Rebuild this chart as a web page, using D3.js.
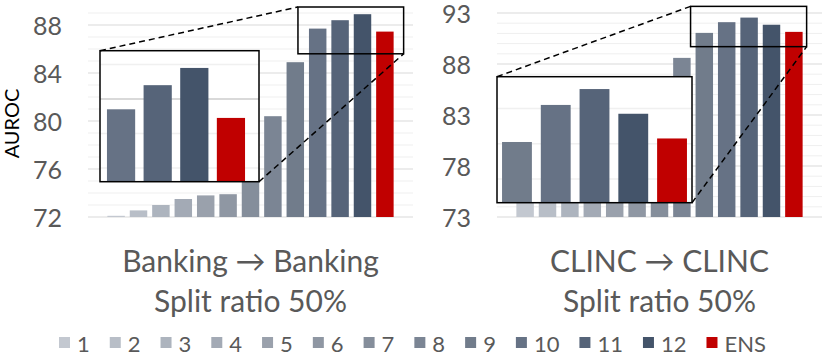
<!DOCTYPE html>
<html>
<head>
<meta charset="utf-8">
<script src="https://cdn.jsdelivr.net/npm/d3@7"></script>
<style>
  body { margin: 0; background: #fff; }
  text { font-family: Lato, "Open Sans", sans-serif; fill: #595959; }
</style>
</head>
<body>
<div id="chart"></div>
<script>
// model names (12 single models + ensemble)
var models = ["1", "2", "3", "4", "5", "6", "7", "8", "9", "10", "11", "12", "ENS"];

// AUROC per model
var bankingAuroc = [72.1, 72.55, 73.0, 73.5, 73.8, 73.9, 76.5, 80.4, 84.9, 87.7, 88.4, 88.9, 87.45];
var clincAuroc = [79.5, 81.0, 82.0, 83.5, 84.5, 85.5, 86.3, 88.6, 91.05, 92.1, 92.55, 91.85, 91.15];

var bankingTicks = [72, 76, 80, 84, 88];
var clincTicks = [73, 78, 83, 88, 93];

var bankingTitle = ["Banking \u2192 Banking", "Split ratio 50%"];
var clincTitle = ["CLINC \u2192 CLINC", "Split ratio 50%"];

// models shown in the zoomed inset
var bankingZoomModels = ["10", "11", "12", "ENS"];
var clincZoomModels = ["9", "10", "11", "12", "ENS"];

var barColors = ["#c3c8d0", "#b8bec7", "#adb4be", "#a3aab5", "#9aa1ac", "#8f97a3",
                 "#858e9b", "#7b8594", "#717c8b", "#667285", "#566479", "#44546a", "#c00000"];

var width = 830, height = 357;

var svg = d3.select("#chart").append("svg")
    .attr("width", width)
    .attr("height", height);

var color = d3.scaleOrdinal().domain(models).range(barColors);

/*
 * One panel: bars, gridlines, tick labels, title and a zoom inset.
*/
function drawPanel(p) {
    var g = svg.append("g");

    var x = d3.scaleBand()
        .domain(models)
        .range([p.x0, p.x1])
        .paddingInner(0.22)
        .paddingOuter(0.865);

    var y = d3.scaleLinear()
        .domain(p.domain)
        .range([217, 13]);

    // gridlines every unit, darker ones at labelled ticks
    var minor = d3.range(p.domain[0], p.domain[1] + 1);
    g.selectAll("line.minor")
        .data(minor)
        .enter().append("line")
        .attr("x1", p.x0).attr("x2", p.x1)
        .attr("y1", d => y(d)).attr("y2", d => y(d))
        .attr("stroke", d => p.ticks.indexOf(d) >= 0 ? "#d9d9d9" : "#efefef")
        .attr("stroke-width", 1);

    // tick labels
    g.selectAll("text.tick")
        .data(p.ticks)
        .enter().append("text")
        .attr("x", p.x0 - 26)
        .attr("y", d => y(d) + 1)
        .attr("dy", "0.36em")
        .attr("text-anchor", "end")
        .style("font-size", "25px")
        .text(d => d);

    // bars
    g.selectAll("rect.bar")
        .data(p.values)
        .enter().append("rect")
        .attr("x", (d, i) => x(models[i]))
        .attr("width", x.bandwidth())
        .attr("y", d => y(d))
        .attr("height", d => y(p.domain[0]) - y(d))
        .attr("fill", (d, i) => color(models[i]));

    // zoom box around the top of the last bars
    var zm = p.zoom;
    var bx0 = x(zm.models[0]) - zm.pad[0],
        bx1 = x(zm.models[zm.models.length - 1]) + x.bandwidth() + zm.pad[1],
        by0 = y(zm.box[1]),
        by1 = y(zm.box[0]);
    g.append("rect")
        .attr("x", bx0).attr("y", by0)
        .attr("width", bx1 - bx0).attr("height", by1 - by0)
        .attr("fill", "none")
        .attr("stroke", "#000")
        .attr("stroke-width", 1.5);

    // inset
    var ins = zm.inset;
    var ix = d3.scaleBand()
        .domain(zm.models)
        .range(zm.range)
        .paddingInner(0.23)
        .paddingOuter(zm.outer);
    var iy = d3.scaleLinear()
        .domain(zm.domain)
        .range([ins.y1, ins.y0]);

    var ig = g.append("g");
    ig.append("rect")
        .attr("x", ins.x0).attr("y", ins.y0)
        .attr("width", ins.x1 - ins.x0).attr("height", ins.y1 - ins.y0)
        .attr("fill", "#fff");

    var insetGrid = d3.range(Math.ceil(zm.domain[0]), Math.floor(zm.domain[1]) + 1);
    ig.selectAll("line.igrid")
        .data(insetGrid)
        .enter().append("line")
        .attr("x1", ins.x0).attr("x2", ins.x1)
        .attr("y1", d => iy(d)).attr("y2", d => iy(d))
        .attr("stroke", d => p.ticks.indexOf(d) >= 0 ? "#d9d9d9" : "#f0f0f0")
        .attr("stroke-width", d => p.ticks.indexOf(d) >= 0 ? 2 : 1.5);

    ig.selectAll("rect.ibar")
        .data(zm.models)
        .enter().append("rect")
        .attr("x", d => ix(d))
        .attr("width", ix.bandwidth())
        .attr("y", d => iy(p.values[models.indexOf(d)]))
        .attr("height", d => ins.y1 - iy(p.values[models.indexOf(d)]))
        .attr("fill", d => color(d));

    ig.append("rect")
        .attr("x", ins.x0).attr("y", ins.y0)
        .attr("width", ins.x1 - ins.x0).attr("height", ins.y1 - ins.y0)
        .attr("fill", "none")
        .attr("stroke", "#000")
        .attr("stroke-width", 1.5);

    // dashed connectors
    var links = [
        [ins.x0, ins.y0, bx0, by0],
        [ins.x1, ins.y1, bx1, by1]
    ];
    g.selectAll("line.link")
        .data(links)
        .enter().append("line")
        .attr("x1", d => d[0]).attr("y1", d => d[1])
        .attr("x2", d => d[2]).attr("y2", d => d[3])
        .attr("stroke", "#000")
        .attr("stroke-width", 1.5)
        .attr("stroke-dasharray", "6,4");

    // title under the plot
    g.selectAll("text.title")
        .data(p.title)
        .enter().append("text")
        .attr("x", (p.x0 + p.x1) / 2)
        .attr("y", (d, i) => 271.5 + i * 40)
        .attr("text-anchor", "middle")
        .style("font-size", "30px")
        .text(d => d);
}

drawPanel({
    x0: 88, x1: 413,
    domain: [72, 89],
    ticks: bankingTicks,
    values: bankingAuroc,
    title: bankingTitle,
    zoom: {
        models: bankingZoomModels,
        pad: [11, 10],
        box: [85.6, 89.5],
        domain: [85.6, 89.4],
        inset: {x0: 100, x1: 259, y0: 50.7, y1: 181.7},
        range: [100, 252],
        outer: 0.19
    }
});

drawPanel({
    x0: 497, x1: 822,
    domain: [73, 93],
    ticks: clincTicks,
    values: clincAuroc,
    title: clincTitle,
    zoom: {
        models: clincZoomModels,
        pad: [5, 4],
        box: [89.7, 93.65],
        domain: [89.33, 92.9],
        inset: {x0: 497, x1: 692, y0: 76.7, y1: 202.7},
        range: [497, 692],
        outer: 0.13
    }
});

// y axis label
svg.append("text")
    .attr("transform", "translate(12,123.5) rotate(-90)")
    .attr("text-anchor", "middle")
    .attr("dy", "0.36em")
    .style("font-size", "20px")
    .style("fill", "#000")
    .text("AUROC");

// legend laid out left to right
var legend = svg.append("g");
var lx = 59;
models.forEach(function(m) {
    legend.append("rect")
        .attr("x", lx).attr("y", 337)
        .attr("width", 11).attr("height", 11)
        .attr("fill", color(m));
    var t = legend.append("text")
        .attr("x", lx + 18)
        .attr("y", 351.5)
        .style("font-size", "22px")
        .text(m);
    lx += 18 + t.node().getComputedTextLength() + 20;
});
</script>
</body>
</html>
